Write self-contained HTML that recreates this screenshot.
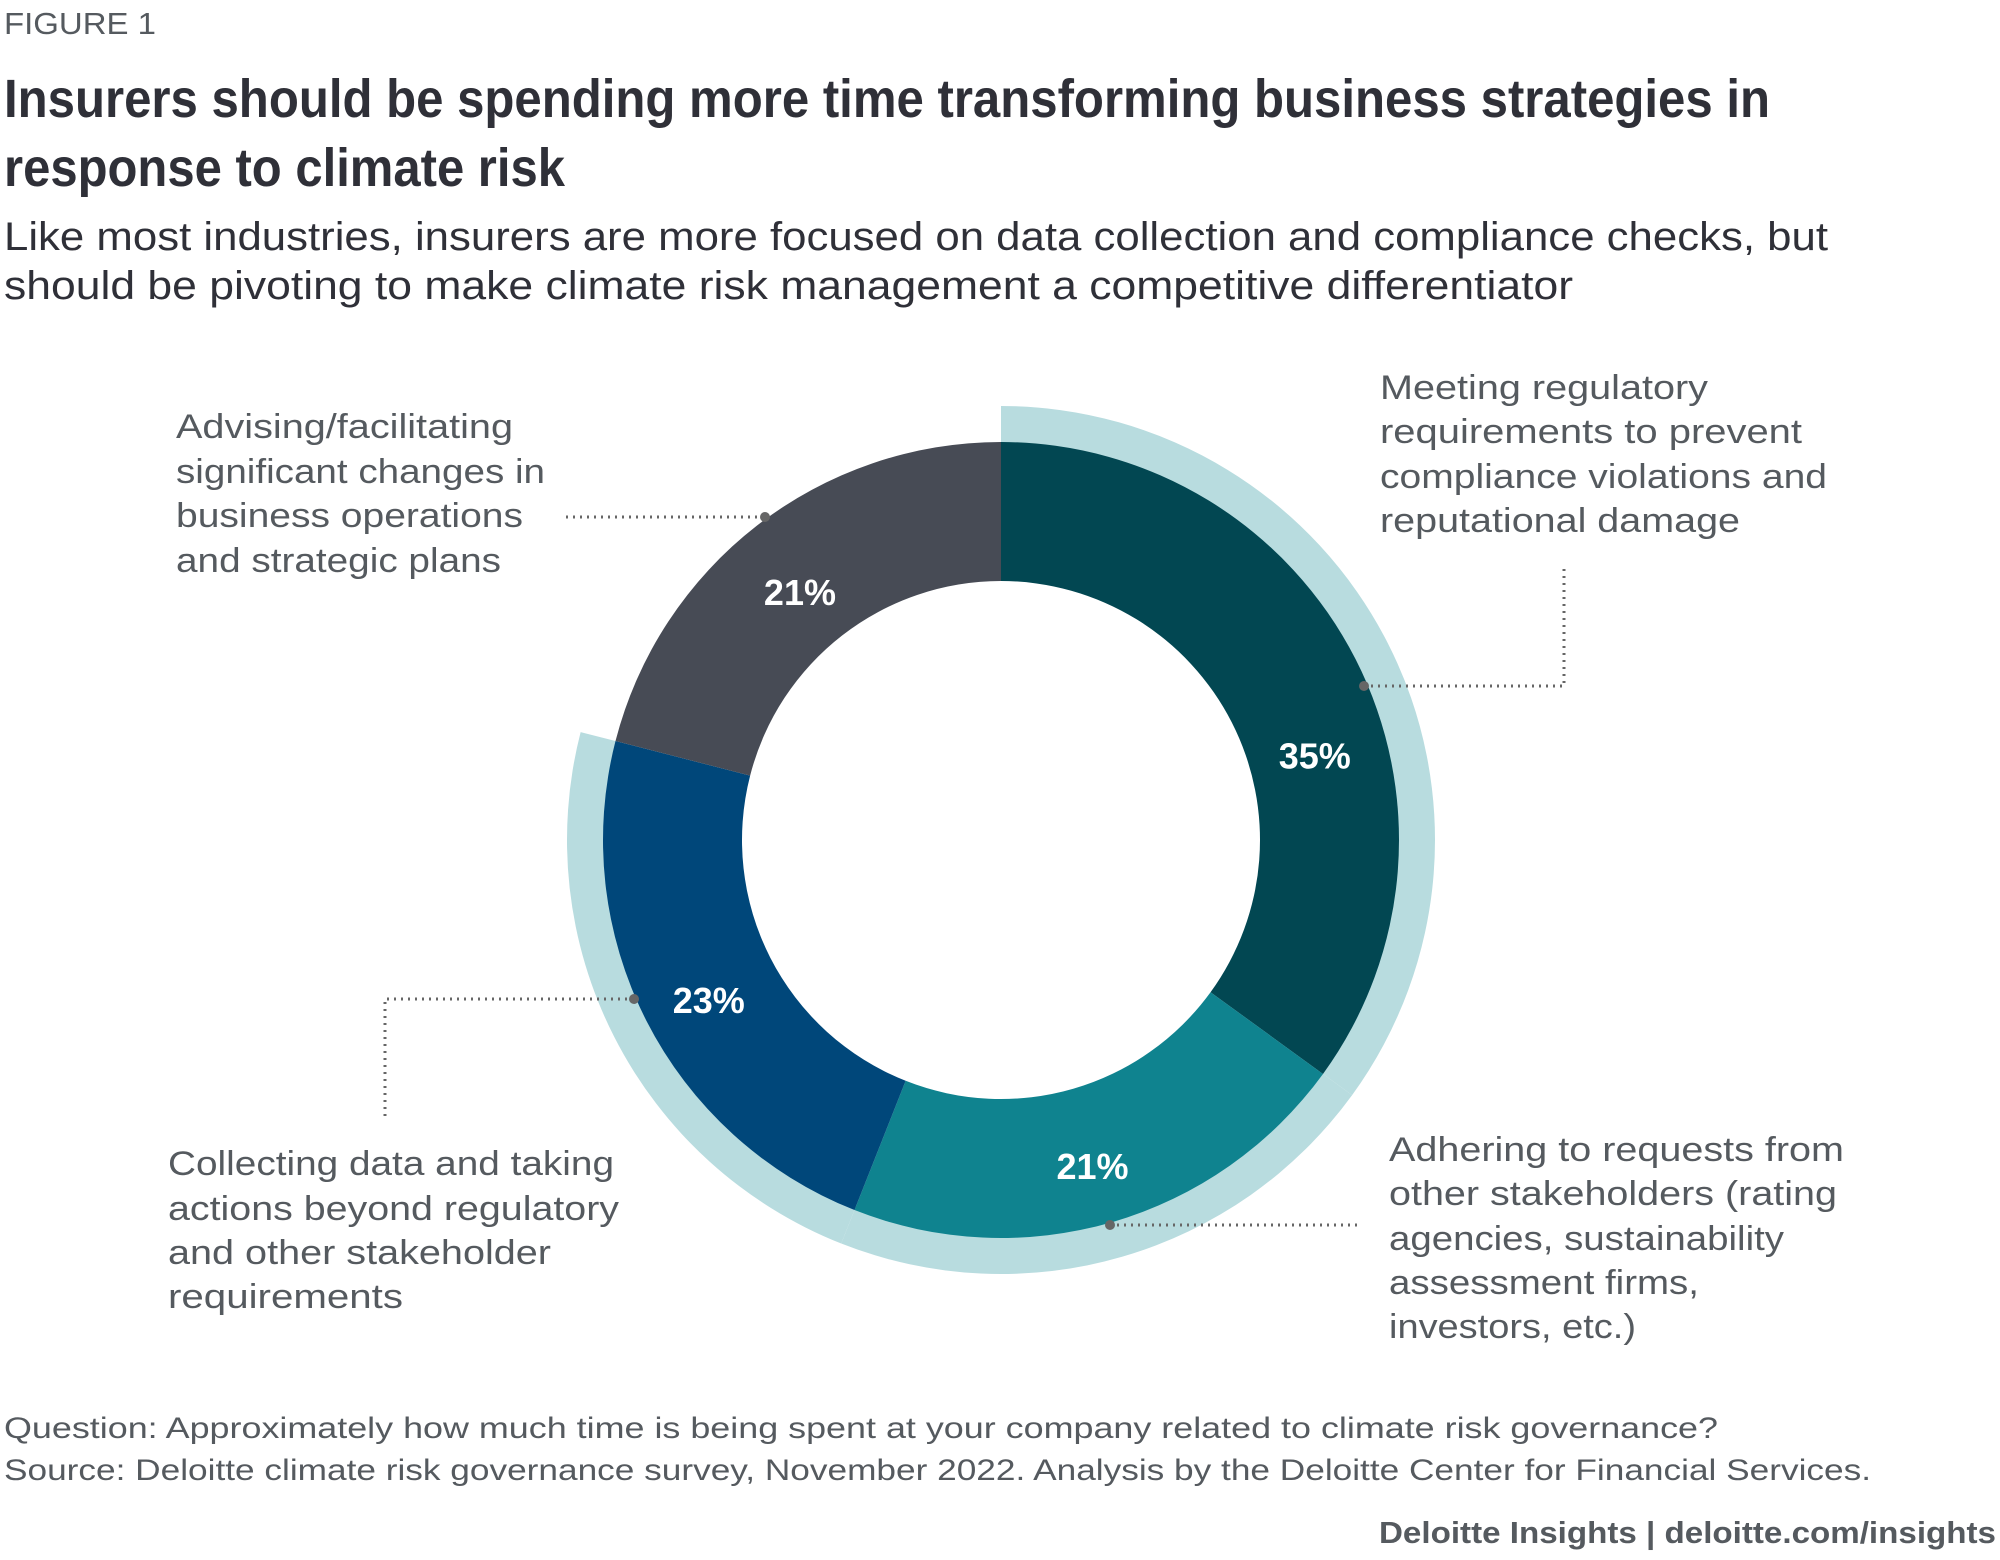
<!DOCTYPE html>
<html><head><meta charset="utf-8"><style>
html,body{margin:0;padding:0;background:#fff}
svg{display:block}
text{font-family:"Liberation Sans",sans-serif}
.t{font-family:"Liberation Sans Narrow","Liberation Sans",sans-serif;font-weight:bold;fill:#2f3038}
.lab{fill:#555a5f;font-size:34px}
.foot{fill:#555a5f;font-size:30px}
.pct{fill:#fff;font-size:36px;font-weight:bold}
.lead{stroke:#666;stroke-width:3;stroke-dasharray:2 5;fill:none}
</style></head><body>
<svg id="chart" width="2000" height="1560" viewBox="0 0 2000 1560" xmlns="http://www.w3.org/2000/svg">
<text x="4" y="34" font-size="31" fill="#555a5f" textLength="152" lengthAdjust="spacingAndGlyphs">FIGURE 1</text>
<text class="t" x="4" y="117" font-size="54" textLength="1766" lengthAdjust="spacingAndGlyphs">Insurers should be spending more time transforming business strategies in</text>
<text class="t" x="4" y="186" font-size="54" textLength="561" lengthAdjust="spacingAndGlyphs">response to climate risk</text>
<text x="4" y="250" font-size="40" fill="#2f3038" textLength="1824" lengthAdjust="spacingAndGlyphs">Like most industries, insurers are more focused on data collection and compliance checks, but</text>
<text x="4" y="299" font-size="40" fill="#2f3038" textLength="1569" lengthAdjust="spacingAndGlyphs">should be pivoting to make climate risk management a competitive differentiator</text>
<g id="rings"></g>
<g id="segs"></g>
<g id="pcts"></g>
<g>
<polyline class="lead" points="566,517 765,517"/>
<circle cx="765" cy="517" r="5" fill="#666"/>
<polyline class="lead" points="1364,686 1564,686 1564,564"/>
<circle cx="1364" cy="686" r="5" fill="#666"/>
<polyline class="lead" points="634,999 385,999 385,1120"/>
<circle cx="634" cy="999" r="5" fill="#666"/>
<polyline class="lead" points="1110,1225 1360,1225"/>
<circle cx="1110" cy="1225" r="5" fill="#666"/>
</g>
<g class="lab">
<text x="176" y="438" textLength="337" lengthAdjust="spacingAndGlyphs">Advising/facilitating</text>
<text x="176" y="483" textLength="369" lengthAdjust="spacingAndGlyphs">significant changes in</text>
<text x="176" y="527" textLength="347" lengthAdjust="spacingAndGlyphs">business operations</text>
<text x="176" y="572" textLength="325" lengthAdjust="spacingAndGlyphs">and strategic plans</text>
</g>
<g class="lab">
<text x="1380" y="399" textLength="328" lengthAdjust="spacingAndGlyphs">Meeting regulatory</text>
<text x="1380" y="443" textLength="422" lengthAdjust="spacingAndGlyphs">requirements to prevent</text>
<text x="1380" y="488" textLength="447" lengthAdjust="spacingAndGlyphs">compliance violations and</text>
<text x="1380" y="532" textLength="360" lengthAdjust="spacingAndGlyphs">reputational damage</text>
</g>
<g class="lab">
<text x="168" y="1175" textLength="446" lengthAdjust="spacingAndGlyphs">Collecting data and taking</text>
<text x="168" y="1220" textLength="451" lengthAdjust="spacingAndGlyphs">actions beyond regulatory</text>
<text x="168" y="1264" textLength="383" lengthAdjust="spacingAndGlyphs">and other stakeholder</text>
<text x="168" y="1308" textLength="235" lengthAdjust="spacingAndGlyphs">requirements</text>
</g>
<g class="lab">
<text x="1389" y="1161" textLength="455" lengthAdjust="spacingAndGlyphs">Adhering to requests from</text>
<text x="1389" y="1205" textLength="448" lengthAdjust="spacingAndGlyphs">other stakeholders (rating</text>
<text x="1389" y="1250" textLength="395" lengthAdjust="spacingAndGlyphs">agencies, sustainability</text>
<text x="1389" y="1294" textLength="310" lengthAdjust="spacingAndGlyphs">assessment firms,</text>
<text x="1389" y="1338" textLength="247" lengthAdjust="spacingAndGlyphs">investors, etc.)</text>
</g>
<text class="foot" x="4" y="1438" textLength="1714" lengthAdjust="spacingAndGlyphs">Question: Approximately how much time is being spent at your company related to climate risk governance?</text>
<text class="foot" x="4" y="1480" textLength="1867" lengthAdjust="spacingAndGlyphs">Source: Deloitte climate risk governance survey, November 2022. Analysis by the Deloitte Center for Financial Services.</text>
<text x="1379" y="1543" font-size="31" font-weight="bold" fill="#555a5f" textLength="617" lengthAdjust="spacingAndGlyphs">Deloitte Insights | deloitte.com/insights</text>
</svg>
<script>
const categories = ["Meeting regulatory requirements", "Adhering to requests from other stakeholders", "Collecting data beyond requirements", "Advising/facilitating significant changes"];
const values = [35, 21, 23, 21];
const highlighted = [true, true, true, false];
const labels = ["35%", "21%", "23%", "21%"];
const colors = ["#024752", "#0f838f", "#00477a", "#474b55"];
const CX = 1001, CY = 840, R_OUT = 398, R_IN = 259, R_HI = 434;
const NS = "http://www.w3.org/2000/svg";
const total = values.reduce((a, b) => a + b, 0);
function ang(v) { return v / total * 2 * Math.PI; }
function pt(a, r) { return [CX + r * Math.sin(a), CY - r * Math.cos(a)]; }
function arcPath(a0, a1, r0, r1) {
  const large = (a1 - a0) > Math.PI ? 1 : 0;
  const p0 = pt(a0, r1), p1 = pt(a1, r1), p2 = pt(a1, r0), p3 = pt(a0, r0);
  return `M${p0[0]},${p0[1]} A${r1},${r1} 0 ${large} 1 ${p1[0]},${p1[1]} L${p2[0]},${p2[1]} A${r0},${r0} 0 ${large} 0 ${p3[0]},${p3[1]} Z`;
}
const rings = document.getElementById('rings');
const segs = document.getElementById('segs');
const pcts = document.getElementById('pcts');
let cum = 0;
values.forEach((v, i) => {
  const a0 = ang(cum), a1 = ang(cum + v);
  if (highlighted[i]) {
    const h = document.createElementNS(NS, 'path');
    h.setAttribute('d', arcPath(a0, a1, R_OUT - 5, R_HI));
    h.setAttribute('fill', '#b8dcdf');
    
    
    rings.appendChild(h);
  }
  const p = document.createElementNS(NS, 'path');
  p.setAttribute('d', arcPath(a0, a1, R_IN, R_OUT));
  p.setAttribute('fill', colors[i]);
  
  
  segs.appendChild(p);
  const f = (a1 - a0) > 2 ? 0.58 : 0.5;
  const m = a0 + (a1 - a0) * f;
  const q = pt(m, 328);
  const t = document.createElementNS(NS, 'text');
  t.setAttribute('x', q[0]);
  t.setAttribute('y', q[1] + 24);
  t.setAttribute('text-anchor', 'middle');
  t.setAttribute('class', 'pct');
  t.textContent = labels[i];
  
  
  pcts.appendChild(t);
  cum += v;
});
</script>
</body></html>
